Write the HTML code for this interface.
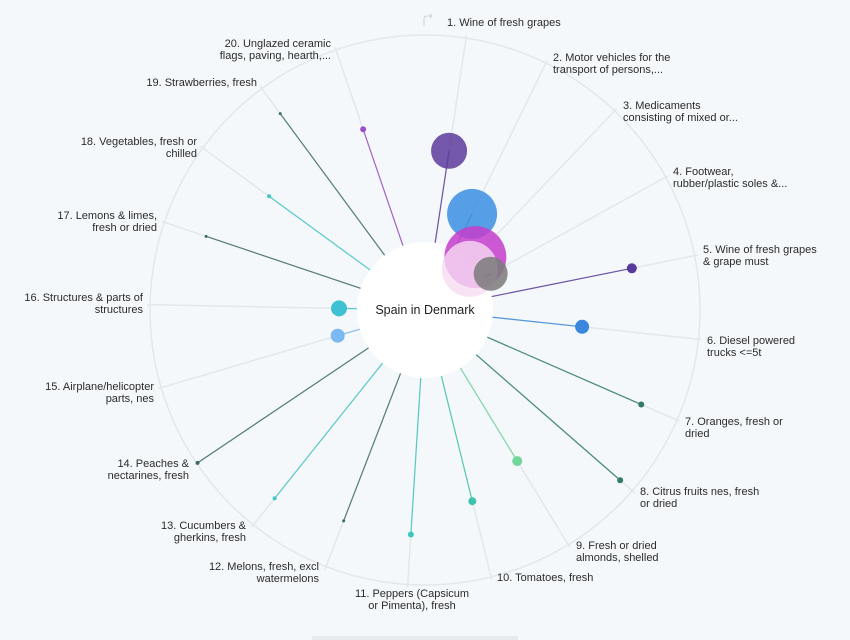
<!DOCTYPE html>
<html><head><meta charset="utf-8">
<style>
html,body{margin:0;padding:0;background:#f5f8fa;}
svg{display:block;font-family:"Liberation Sans",sans-serif;}
.lbl{font-size:11px;fill:#2b2b2b;}
</style></head>
<body>
<svg id="chart" width="850" height="640" viewBox="0 0 850 640">
  <rect x="0" y="0" width="850" height="640" fill="#f5f8fa"/>
  <circle cx="425" cy="310" r="275" fill="none" stroke="#e3e7ea" stroke-width="1.5"/>
  <g id="spokes"></g>
  <circle cx="425" cy="310" r="68" fill="#ffffff"/>
  <g id="marks"></g>
  <text x="425" y="314" text-anchor="middle" font-size="12.5" fill="#222">Spain in Denmark</text>
  <path d="M424 26 L424 19 Q424 16 427 16 L432 16 M430 14 L432 16 L430 18" fill="none" stroke="#ccd1d5" stroke-width="1"/>
  <rect x="312" y="636" width="206" height="4" fill="#e6eaed"/>
  <g id="labels"></g>
</svg>
<script>
const categories = ["Wine of fresh grapes","Motor vehicles for the transport of persons,...","Medicaments consisting of mixed or...","Footwear, rubber/plastic soles &...","Wine of fresh grapes & grape must","Diesel powered trucks <=5t","Oranges, fresh or dried","Citrus fruits nes, fresh or dried","Fresh or dried almonds, shelled","Tomatoes, fresh","Peppers (Capsicum or Pimenta), fresh","Melons, fresh, excl watermelons","Cucumbers & gherkins, fresh","Peaches & nectarines, fresh","Airplane/helicopter parts, nes","Structures & parts of structures","Lemons & limes, fresh or dried","Vegetables, fresh or chilled","Strawberries, fresh","Unglazed ceramic flags, paving, hearth,..."];
const distances = [161,107,73,75,211,158,236,259,177,197,225,226,241,274,91,86,231,193,244,191];
const sizes = [18,25,31,17,5,7,3,3,5,4,3,1.5,2,2,7,8,1.5,2,1.5,3];
const colors = ["#5a3b9c","#3a8ee0","#c43ccc","#7a7a7a","#5a3b9c","#3a88de","#2f7a68","#2f7a68","#72d69c","#3ec4ae","#3ec6c2","#3d6b6a","#44c6cc","#3d6b6a","#7ab9f2","#3ec1d2","#3d6b6a","#42c8c8","#3d6b6a","#9c50c8"];
const labelLines = [["1. Wine of fresh grapes"],["2. Motor vehicles for the","transport of persons,..."],["3. Medicaments","consisting of mixed or..."],["4. Footwear,","rubber/plastic soles &..."],["5. Wine of fresh grapes","& grape must"],["6. Diesel powered","trucks <=5t"],["7. Oranges, fresh or","dried"],["8. Citrus fruits nes, fresh","or dried"],["9. Fresh or dried","almonds, shelled"],["10. Tomatoes, fresh"],["11. Peppers (Capsicum","or Pimenta), fresh"],["12. Melons, fresh, excl","watermelons"],["13. Cucumbers &","gherkins, fresh"],["14. Peaches &","nectarines, fresh"],["15. Airplane/helicopter","parts, nes"],["16. Structures & parts of","structures"],["17. Lemons & limes,","fresh or dried"],["18. Vegetables, fresh or","chilled"],["19. Strawberries, fresh"],["20. Unglazed ceramic","flags, paving, hearth,..."]];
const labelAnchors = [[447,26,"start"],[553,61,"start"],[623,109,"start"],[673,175,"start"],[703,253,"start"],[707,344,"start"],[685,425,"start"],[640,495,"start"],[576,549,"start"],[497,581,"start"],[412,597,"middle"],[319,570,"end"],[246,529,"end"],[189,467,"end"],[154,390,"end"],[143,301,"end"],[157,219,"end"],[197,145,"end"],[257,86,"end"],[331,47,"end"]];

const NS="http://www.w3.org/2000/svg";
const cx=425, cy=310, R0=68, RO=278;
function angleOf(i){ return (8.6 + i*17.5) * Math.PI/180; }
function pt(i,r){ const a=angleOf(i); return [cx + r*Math.sin(a), cy - r*Math.cos(a)]; }
const sp=document.getElementById('spokes'), mk=document.getElementById('marks'), lb=document.getElementById('labels');
categories.forEach((c,i)=>{
  const [x1,y1]=pt(i,R0), [x2,y2]=pt(i,RO);
  const s=document.createElementNS(NS,'line');
  
  
  s.setAttribute('x1',x1);s.setAttribute('y1',y1);s.setAttribute('x2',x2);s.setAttribute('y2',y2);
  s.setAttribute('stroke','#e3e7ea');s.setAttribute('stroke-width','1.5');
  sp.appendChild(s);
  const [px,py]=pt(i,distances[i]);
  const l=document.createElementNS(NS,'line');
  
  
  l.setAttribute('x1',x1);l.setAttribute('y1',y1);l.setAttribute('x2',px);l.setAttribute('y2',py);
  l.setAttribute('stroke',colors[i]);l.setAttribute('stroke-width','1.2');l.setAttribute('opacity','0.85');
  mk.appendChild(l);
  const b=document.createElementNS(NS,'circle');
  
  
  b.setAttribute('cx',px);b.setAttribute('cy',py);b.setAttribute('r',sizes[i]);
  b.setAttribute('fill',colors[i]);b.setAttribute('opacity',sizes[i]>10?'0.85':'1');
  mk.appendChild(b);
  if(i===2){
    const [gx,gy]=pt(i,distances[i]-8);
    const g=document.createElementNS(NS,'circle');
    
    
    g.setAttribute('cx',gx);g.setAttribute('cy',gy+6);g.setAttribute('r',28);
    g.setAttribute('fill','#f6dcf3');g.setAttribute('opacity','0.8');
    mk.appendChild(g);
  }
  const [tx,ty,anc]=labelAnchors[i];
  const t=document.createElementNS(NS,'text');
  
  
  t.setAttribute('class','lbl');t.setAttribute('text-anchor',anc);
  labelLines[i].forEach((ln,k)=>{
    const ts=document.createElementNS(NS,'tspan');
    ts.setAttribute('x',tx);ts.setAttribute('y',ty+k*12);
    ts.textContent=ln;t.appendChild(ts);
  });
  lb.appendChild(t);
});
</script>
</body></html>
